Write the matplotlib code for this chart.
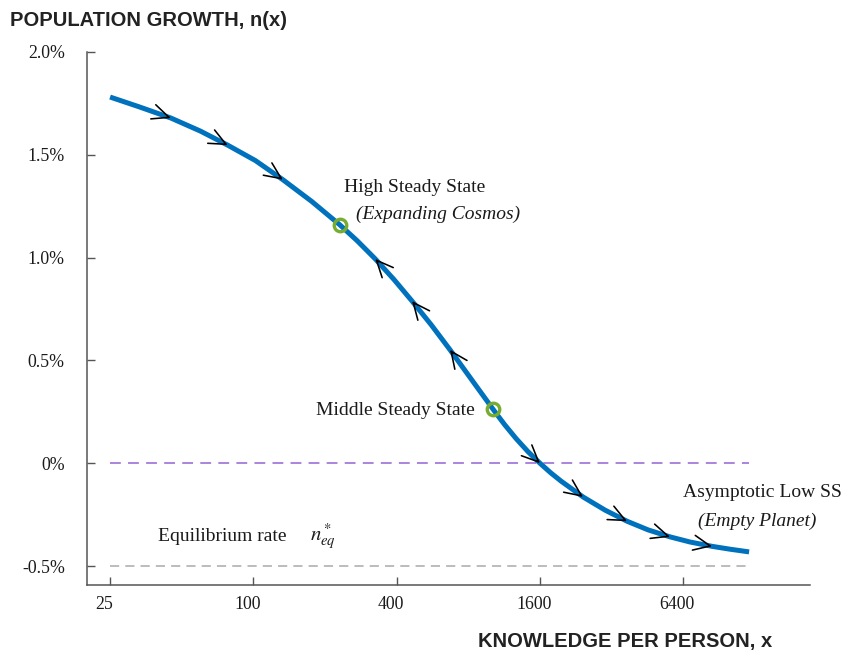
import numpy as np
import matplotlib
matplotlib.use("Agg")
import matplotlib.pyplot as plt
import matplotlib.transforms as mtransforms
from matplotlib.patches import FancyArrowPatch, ArrowStyle
from matplotlib.ticker import FixedLocator, FixedFormatter, NullLocator

# ---- data ----
knowledge = [25, 33, 45, 60, 78, 102, 133, 176, 231, 273, 325, 390, 464, 558,
             670, 830, 1017, 1136, 1270, 1426, 1600, 1773, 1963, 2428, 3004,
             3716, 4553, 5632, 6835, 8455, 10065, 12095]
growth = [1.781, 1.734, 1.679, 1.615, 1.547, 1.472, 1.379, 1.273, 1.159, 1.082,
          0.994, 0.893, 0.789, 0.674, 0.552, 0.403, 0.262, 0.188, 0.120, 0.056,
          0.000, -0.046, -0.087, -0.164, -0.228, -0.282, -0.324, -0.358, -0.383,
          -0.404, -0.418, -0.431]

arrow_x = [45, 78, 133, 325, 464, 670, 1600, 2428, 3716, 5632, 8455]
arrow_dir = [1, 1, 1, -1, -1, -1, 1, 1, 1, 1, 1]

steady_x = [231, 1017]
steady_y = [1.159, 0.262]

zero_line = 0.0
eq_line = -0.5
line_x = [25, 12095]

xticks = [25, 100, 400, 1600, 6400]
xtick_labels = ["25", "100", "400", "1600", "6400"]
yticks = [-0.5, 0.0, 0.5, 1.0, 1.5, 2.0]
ytick_labels = ["-0.5%", "0%", "0.5%", "1.0%", "1.5%", "2.0%"]

# ---- style ----
plt.rcParams['font.family'] = ['Liberation Serif', 'DejaVu Serif']
plt.rcParams['mathtext.fontset'] = 'stix'

fig = plt.figure(figsize=(8.49, 6.54), dpi=100)
ax = fig.add_axes([87/849, 1-585/654, (810-87)/849, (585-52)/654])

blue = '#0072BD'
green = '#77AC30'
purple = '#A57BDB'
grey = '#AAAAAA'
txt = '#1a1a1a'

ax.set_xscale('log')
ax.set_xlim(20.0, 21800)
ax.set_ylim(-0.592, 2.0)

ax.plot(line_x, [zero_line, zero_line], color=purple, lw=1.3, dashes=(6, 4), zorder=1)
ax.plot(line_x, [eq_line, eq_line], color=grey, lw=1.1, dashes=(6, 4), zorder=1)

ax.plot(knowledge, growth, color=blue, lw=3.6, solid_capstyle='butt',
        solid_joinstyle='round', zorder=2)

lk = np.log(knowledge)
for xa, d in zip(arrow_x, arrow_dir):
    ya = np.interp(np.log(xa), lk, growth)
    xt = xa * 4 ** (-0.02 * d)
    yt = np.interp(np.log(xt), lk, growth)
    arr = FancyArrowPatch((xt, yt), (xa, ya),
                          arrowstyle=ArrowStyle('->', head_length=12.0, head_width=5.4),
                          mutation_scale=1, color='black', lw=1.15,
                          shrinkA=0, shrinkB=0, zorder=4)
    ax.add_patch(arr)

ax.plot(steady_x, steady_y, 'o', ms=9, mfc='none', mec=green, mew=2.4, zorder=5)

# annotations
fs = 14
ax.text(240, 1.343, "High Steady State", fontsize=fs, ha='left', va='center', color=txt)
ax.text(270, 1.212, "(Expanding Cosmos)", fontsize=fs, style='italic', ha='left', va='center', color=txt)
ax.text(855, 0.259, "Middle Steady State", fontsize=fs, ha='right', va='center', color=txt)
ax.text(6390, -0.14, "Asymptotic Low SS", fontsize=fs, ha='left', va='center', color=txt)
ax.text(7350, -0.281, "(Empty Planet)", fontsize=fs, style='italic', ha='left', va='center', color=txt)
ax.text(39.8, -0.354, "Equilibrium rate", fontsize=fs, ha='left', va='center', color=txt)
ax.text(173, -0.36, r"$n^*_{eq}$", fontsize=fs + 1, ha='left', va='center', color=txt)

# axes styling
for s in ['top', 'right']:
    ax.spines[s].set_visible(False)
for s in ['left', 'bottom']:
    ax.spines[s].set_color('#555555')
    ax.spines[s].set_linewidth(1.1)

ax.xaxis.set_major_locator(FixedLocator(xticks))
ax.xaxis.set_major_formatter(FixedFormatter(xtick_labels))
ax.xaxis.set_minor_locator(NullLocator())
ax.set_yticks(yticks)
ax.set_yticklabels(ytick_labels)
ax.tick_params(axis='x', direction='in', length=6, width=1.0, color='#555555',
               labelsize=12.8, labelcolor=txt, pad=8)
ax.tick_params(axis='y', direction='in', length=6, width=1.0, color='#555555',
               labelsize=12.8, labelcolor=txt, pad=16)

shift = mtransforms.ScaledTranslation(-6/100, 0, fig.dpi_scale_trans)
for lab in ax.get_xticklabels():
    lab.set_transform(lab.get_transform() + shift)

fig.text(10/849, 1-20/654, "POPULATION GROWTH, n(x)", family='Liberation Sans',
         weight='bold', fontsize=14.5, color='#222222', ha='left', va='center')
fig.text(478/849, 1-641/654, "KNOWLEDGE PER PERSON, x", family='Liberation Sans',
         weight='bold', fontsize=14.5, color='#222222', ha='left', va='center')

fig.savefig('out.png', dpi=100)
